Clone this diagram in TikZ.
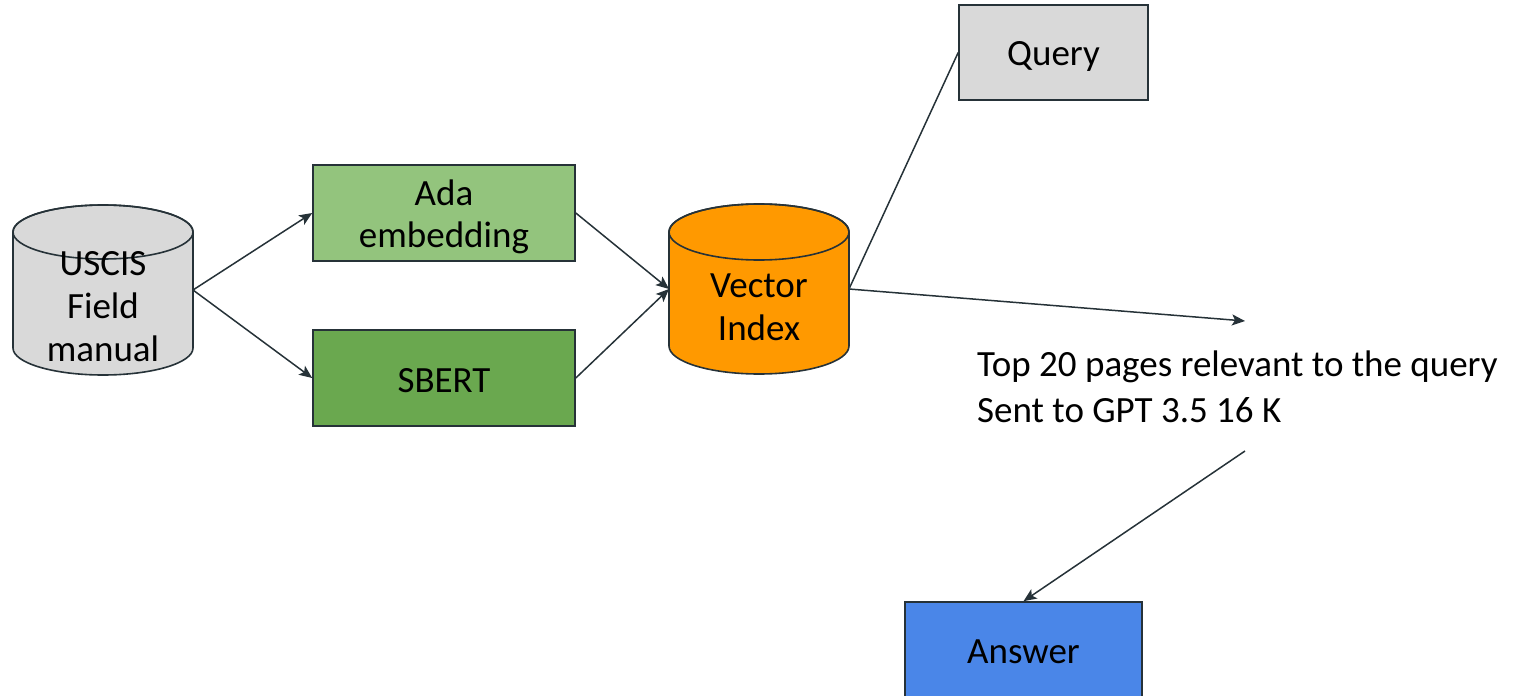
\documentclass[tikz,border=0pt]{standalone}
\usepackage{fontspec}
\setmainfont{Carlito}
\usetikzlibrary{arrows.meta,calc}
\definecolor{edge}{HTML}{263238}
\definecolor{cgray}{HTML}{D9D9D9}
\definecolor{cada}{HTML}{93C47D}
\definecolor{csbert}{HTML}{6AA84F}
\definecolor{corange}{HTML}{FF9900}
\definecolor{cblue}{HTML}{4A86E8}
\tikzset{
  boxnode/.style={draw=edge, line width=1.6pt, minimum width=#1, inner sep=0pt},
  boxtext/.style={anchor=base, align=center, inner sep=0pt, font=\fontsize{37}{42}\selectfont},
  cylbody/.style={minimum width=180pt, minimum height=170pt, inner sep=0pt, outer sep=0pt},
  cyltext/.style={align=center, font=\fontsize{37}{43}\selectfont, inner sep=0pt},
  cylline/.style={draw=edge, line width=1.6pt},
  conn/.style={draw=edge, line width=1.5pt},
  arr/.style={conn, -{Stealth[length=13pt,width=11pt,inset=3pt]}},
}
\begin{document}
\begin{tikzpicture}[x=1pt,y=1pt]
\useasboundingbox (0,0) rectangle (1519,-696);
\clip (0,0) rectangle (1519,-696);

% USCIS cylinder
\node[cylbody] (uscis) at (103,-290) {};
\draw[cylline, fill=cgray] ([yshift=-27pt]uscis.north west) -- ([yshift=27pt]uscis.south west)
  arc[start angle=180,end angle=360,x radius=90,y radius=27] -- ([yshift=-27pt]uscis.north east)
  arc[start angle=0,end angle=180,x radius=90,y radius=27] -- cycle;
\draw[cylline] ([yshift=-27pt]uscis.north) ellipse[x radius=90,y radius=27];
\node[cyltext] (uscistext) at (103,-307) {USCIS\\Field\\manual};

% Vector Index cylinder
\node[cylbody] (vec) at (759,-289) {};
\draw[cylline, fill=corange] ([yshift=-28pt]vec.north west) -- ([yshift=28pt]vec.south west)
  arc[start angle=180,end angle=360,x radius=90,y radius=28] -- ([yshift=-28pt]vec.north east)
  arc[start angle=0,end angle=180,x radius=90,y radius=28] -- cycle;
\draw[cylline] ([yshift=-28pt]vec.north) ellipse[x radius=90,y radius=28];
\node[cyltext] (vectext) at (759,-307) {Vector\\Index};

% boxes
\node[boxnode=262pt, minimum height=96pt, fill=cada] (ada) at (444,-213) {};
\node[boxnode=262pt, minimum height=96pt, fill=csbert] (sbert) at (444,-378) {};
\node[boxnode=189pt, minimum height=95pt, fill=cgray] (query) at (1053.5,-52.5) {};
\node[boxnode=237pt, minimum height=100pt, fill=cblue] (answer) at (1023.5,-652) {};
\node[boxtext] (adatext) at (444,-247) {Ada\\embedding};
\node[boxtext] (sberttext) at (444,-392) {SBERT};
\node[boxtext] (querytext) at (1053.5,-65) {Query};
\node[boxtext] (answertext) at (1023.5,-663) {Answer};

% label
\node[anchor=west, align=left, inner sep=0pt, font=\fontsize{37}{46}\selectfont] (label) at (977,-387)
  {Top 20 pages relevant to the query\\Sent to GPT 3.5 16 K};

\coordinate (tip) at (1245,-321);
\coordinate (src) at (1245,-451);

% connectors
\draw[arr] (uscis.east) -- (ada.west);
\draw[arr] (uscis.east) -- (sbert.west);
\draw[arr] (ada.east) -- (vec.west);
\draw[arr] (sbert.east) -- (vec.west);
\draw[conn] (vec.east) -- (query.west);
\draw[arr] (vec.east) -- (tip);
\draw[arr] (src) -- (answer.north);
\end{tikzpicture}
\end{document}
